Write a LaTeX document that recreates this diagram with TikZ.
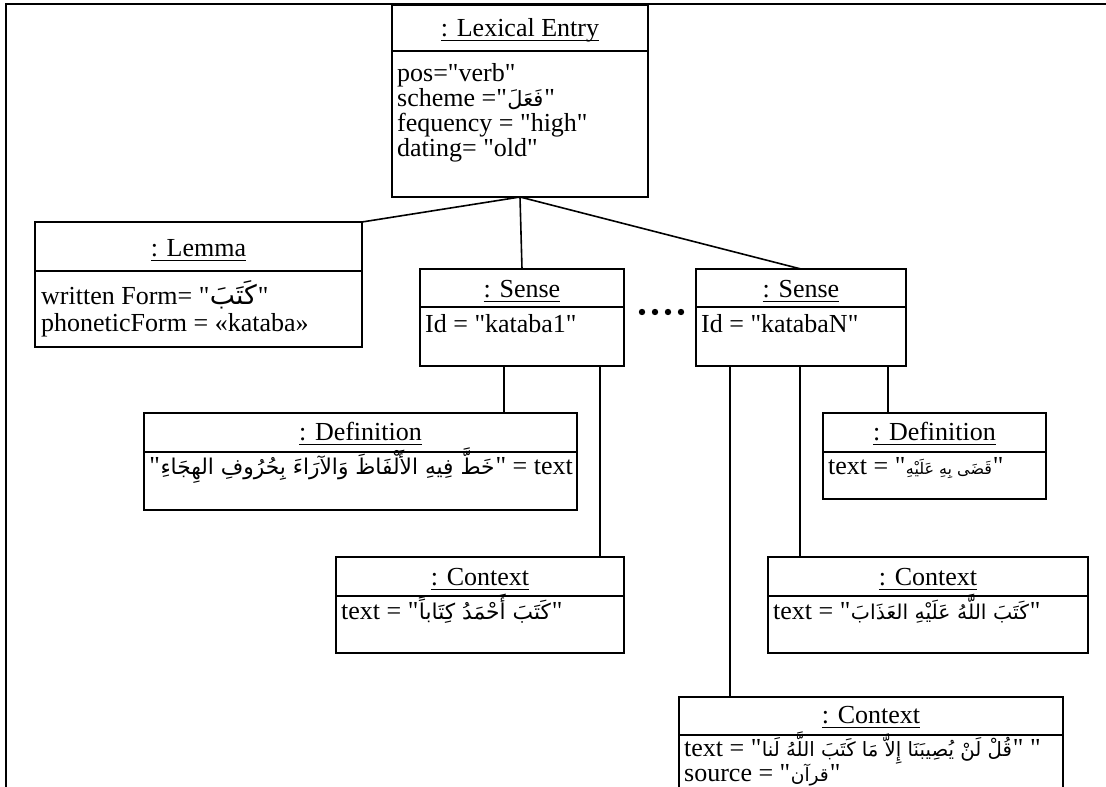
\documentclass[tikz,border=0pt]{standalone}
\usepackage{fontspec}
\usepackage{graphicx}
\TeXXeTstate=1
\newfontfamily\umlfont{Liberation Serif}
\newfontfamily\arabicfont[Script=Arabic]{DejaVu Sans}
% Arabic run scaled to a given width
\newcommand\ar[2]{\kern0.5pt\resizebox{#1}{!}{\arabicfont #2}\kern1pt}
% underlined object name
\newcommand\objname[1]{\setbox0=\hbox{#1}\rlap{\rule[-5pt]{\wd0}{1.4pt}}\box0}

\begin{document}
\begin{tikzpicture}[x=1pt,y=-1pt,
  every node/.style={font=\umlfont\fontsize{26}{29}\selectfont},
  objbox/.style={draw, line width=1.8pt, anchor=north west, inner sep=0pt, outer sep=0pt},
  divider/.style={line width=1.8pt},
  link/.style={line width=1.6pt},
  objtitle/.style={anchor=base, inner sep=0pt},
  attr/.style={anchor=base west, inner sep=0pt},
  attrR/.style={anchor=base east, inner sep=0pt},
  frameline/.style={line width=2.5pt}]

\clip (0,0) rectangle (1106,787);
\fill[white] (0,0) rectangle (1106,787);

% outer frame
\draw[frameline] (6,800) -- (6,4) -- (1110,4);

% Lexical Entry
\node[objbox, minimum width=256pt, minimum height=192pt] (lex) at (392,5) {};
\draw[divider] (lex.west |- 0,51) -- (lex.east |- 0,51);
\node[objtitle] (lexT) at (520,36) {\objname{: Lexical Entry}};
\node[attr] (lexA) at (397,81) {pos="verb"};
\node[attr] (lexB) at (397,106) {scheme ="\ar{36pt}{\beginR فَعَلَ\endR}"};
\node[attr] (lexC) at (397,131) {fequency = "high"};
\node[attr] (lexD) at (397,156) {dating= "old"};

% Lemma
\node[objbox, minimum width=327pt, minimum height=125pt] (lemma) at (35,222) {};
\draw[divider] (lemma.west |- 0,271) -- (lemma.east |- 0,271);
\node[objtitle] (lemmaT) at (198.5,256) {\objname{: Lemma}};
\node[attr] (lemmaA) at (41,304) {written Form= "\ar{47pt}{\beginR كَتَبَ\endR}"};
\node[attr] (lemmaB) at (41,331) {phoneticForm = «kataba»};

% first sense
\node[objbox, minimum width=204pt, minimum height=97pt] (sense1) at (420,269) {};
\draw[divider] (sense1.west |- 0,307) -- (sense1.east |- 0,307);
\node[objtitle] (sense1T) at (522,297) {\objname{: Sense}};
\node[attr] (sense1A) at (425,332) {Id = "kataba1"};

% last sense
\node[objbox, minimum width=210pt, minimum height=97pt] (senseN) at (696,269) {};
\draw[divider] (senseN.west |- 0,307) -- (senseN.east |- 0,307);
\node[objtitle] (senseNT) at (801,297) {\objname{: Sense}};
\node[attr] (senseNA) at (701,332) {Id = "katabaN"};

% ellipsis between the senses
\foreach \dx in {642,655,668,681}
  \fill (\dx,312) circle (3.2pt);

% definition of the first sense
\node[objbox, minimum width=433pt, minimum height=97pt] (def1) at (144,413) {};
\draw[divider] (def1.west |- 0,452) -- (def1.east |- 0,452);
\node[objtitle] (def1T) at (360.5,440) {\objname{: Definition}};
\node[attrR] (def1A) at (573,474) {"\ar{334pt}{\beginR خَطَّ فِيهِ الأَلْفَاظَ وَالآرَاءَ بِحُرُوفِ الهِجَاءِ\endR}" = text};

% definition of the last sense
\node[objbox, minimum width=223pt, minimum height=86pt] (def2) at (823,413) {};
\draw[divider] (def2.west |- 0,452) -- (def2.east |- 0,452);
\node[objtitle] (def2T) at (934.5,440) {\objname{: Definition}};
\node[attr] (def2A) at (828,474) {text = "\ar{86pt}{\beginR قَضَى بِهِ عَلَيْهِ\endR}"};

% context of the first sense
\node[objbox, minimum width=288pt, minimum height=96pt] (ctx1) at (336,557) {};
\draw[divider] (ctx1.west |- 0,596) -- (ctx1.east |- 0,596);
\node[objtitle] (ctx1T) at (480,585) {\objname{: Context}};
\node[attr] (ctx1A) at (341,619) {text = "\ar{132pt}{\beginR كَتَبَ أَحْمَدُ كِتَاباً\endR}"};

% contexts of the last sense
\node[objbox, minimum width=320pt, minimum height=96pt] (ctx2) at (768,557) {};
\draw[divider] (ctx2.west |- 0,596) -- (ctx2.east |- 0,596);
\node[objtitle] (ctx2T) at (928,585) {\objname{: Context}};
\node[attr] (ctx2A) at (773,619) {text = "\ar{178pt}{\beginR كَتَبَ اللَّهُ عَلَيْهِ العَذَابَ\endR}"};

\node[objbox, minimum width=384pt, minimum height=120pt] (ctx3) at (679,697) {};
\draw[divider] (ctx3.west |- 0,735) -- (ctx3.east |- 0,735);
\node[objtitle] (ctx3T) at (871,723) {\objname{: Context}};
\node[attr] (ctx3A) at (684,756) {text = "\ar{250pt}{\beginR قُلْ لَنْ يُصِيبَنَا إِلاَّ مَا كَتَبَ اللَّهُ لَنا\endR}" "};
\node[attr] (ctx3B) at (684,781) {source = "\ar{38pt}{\beginR قرآن\endR}"};

% links
\draw[link] (lex.south) -- (lemma.north east);
\draw[link] (lex.south) -- (sense1.north);
\draw[link] (lex.south) -- (senseN.north);
\draw[link] ([xshift=-18pt]sense1.south) -- ([xshift=-18pt]sense1.south |- def1.north);
\draw[link] ([xshift=78pt]sense1.south) -- ([xshift=78pt]sense1.south |- ctx1.north);
\draw[link] ([xshift=-71pt]senseN.south) -- ([xshift=-71pt]senseN.south |- ctx3.north);
\draw[link] ([xshift=-1pt]senseN.south) -- ([xshift=-1pt]senseN.south |- ctx2.north);
\draw[link] ([xshift=87pt]senseN.south) -- ([xshift=87pt]senseN.south |- def2.north);
\end{tikzpicture}
\end{document}
